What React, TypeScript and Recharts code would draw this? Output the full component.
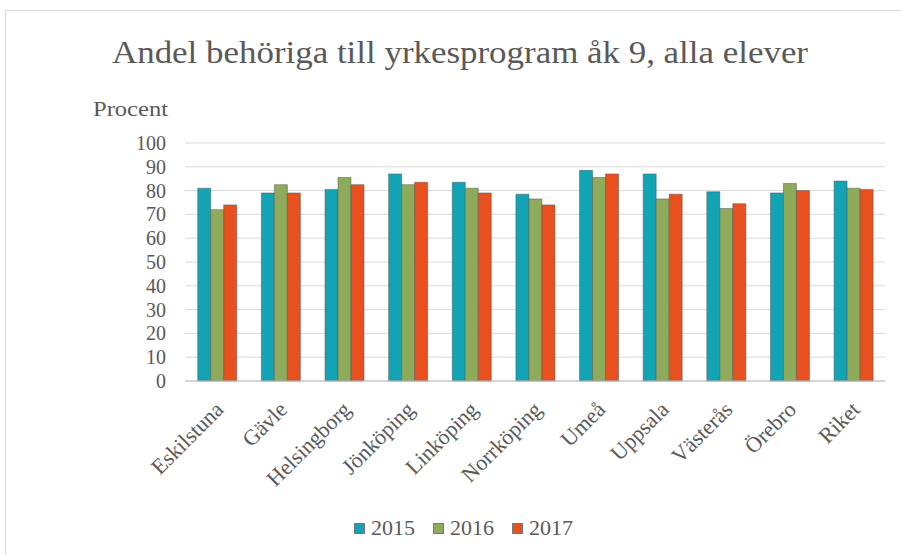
import React from "react";
import { BarChart, Bar, XAxis, YAxis, CartesianGrid, Legend } from "recharts";

const categories = ["Eskilstuna", "Gävle", "Helsingborg", "Jönköping", "Linköping", "Norrköping", "Umeå", "Uppsala", "Västerås", "Örebro", "Riket"];
const v2015 = [81, 79, 80.5, 87, 83.5, 78.5, 88.5, 87, 79.5, 79, 84];
const v2016 = [72, 82.5, 85.5, 82.5, 81, 76.5, 85.5, 76.5, 72.5, 83, 81];
const v2017 = [74, 79, 82.5, 83.5, 79, 74, 87, 78.5, 74.5, 80, 80.5];
const yTicks = [0, 10, 20, 30, 40, 50, 60, 70, 80, 90, 100];
const seriesNames = ["2015", "2016", "2017"];
const colors = ["#12a4b5", "#8eaa5b", "#e8511f"];

const data = categories.map((c, i) => ({ name: c, s2015: v2015[i], s2016: v2016[i], s2017: v2017[i] }));

const FONT = "'Liberation Serif', 'Times New Roman', serif";
const TEXT = "#595959";

const XTick = (props: any) => {
  const { x, y, payload } = props;
  return (
    <g transform={`translate(${x + 3},${y + 17})`}>
      <text transform="rotate(-45)" textAnchor="end" dy={7} fill={TEXT} fontSize={22} fontFamily={FONT}>
        {payload.value}
      </text>
    </g>
  );
};

const YTick = (props: any) => {
  const { x, y, payload } = props;
  return (
    <text x={x} y={y} dy={7} textAnchor="end" fill={TEXT} fontSize={20} fontFamily={FONT}>
      {payload.value}
    </text>
  );
};

const LegendContent = () => (
  <div style={{ display: "flex", justifyContent: "center", alignItems: "center", height: 26, fontFamily: FONT, fontSize: 22, color: TEXT, paddingLeft: 26 }}>
    {seriesNames.map((n, i) => (
      <div key={n} style={{ display: "flex", alignItems: "center", marginRight: i < 2 ? 18 : 0 }}>
        <span style={{ display: "inline-block", width: 9, height: 9, background: colors[i], border: "1px solid #777", marginRight: 6 }} />
        <span>{n}</span>
      </div>
    ))}
  </div>
);

export default function App() {
  return (
    <div style={{ position: "absolute", left: 0, top: 0, width: 901, height: 555, background: "#fff", fontFamily: FONT }}>
      <div style={{ position: "absolute", left: 5, top: 10, width: 896, height: 545, borderTop: "1px solid #d9d9d9", borderLeft: "1px solid #d9d9d9" }} />
      <svg style={{ position: "absolute", left: 0, top: 0 }} width={901} height={555}>
        <text x={112} y={63} fontSize={32} fontFamily={FONT} fill={TEXT} textLength={696} lengthAdjust="spacingAndGlyphs">
          Andel behöriga till yrkesprogram åk 9, alla elever
        </text>
        <text x={93} y={116} fontSize={21} fontFamily={FONT} fill={TEXT} textLength={75} lengthAdjust="spacingAndGlyphs">
          Procent
        </text>
      </svg>
      <div style={{ position: "absolute", left: 0, top: 0 }}>
        <BarChart width={901} height={555} data={data} margin={{ top: 143, right: 16, left: 125, bottom: 14 }} barCategoryGap="20%" barGap={0}>
          <CartesianGrid vertical={false} stroke="#d9d9d9" />
          <XAxis dataKey="name" height={134} tick={<XTick />} tickLine={false} axisLine={{ stroke: "#bfbfbf" }} interval={0} />
          <YAxis width={60} domain={[0, 100]} ticks={yTicks} interval={0} tickLine={false} axisLine={false} tick={<YTick />} tickMargin={13} />
          <Legend verticalAlign="bottom" content={<LegendContent />} wrapperStyle={{ left: 0, width: 901 }} />
          <Bar dataKey="s2015" name="2015" fill={colors[0]} stroke="#555" strokeWidth={0.5} isAnimationActive={false} />
          <Bar dataKey="s2016" name="2016" fill={colors[1]} stroke="#555" strokeWidth={0.5} isAnimationActive={false} />
          <Bar dataKey="s2017" name="2017" fill={colors[2]} stroke="#555" strokeWidth={0.5} isAnimationActive={false} />
        </BarChart>
      </div>
    </div>
  );
}
